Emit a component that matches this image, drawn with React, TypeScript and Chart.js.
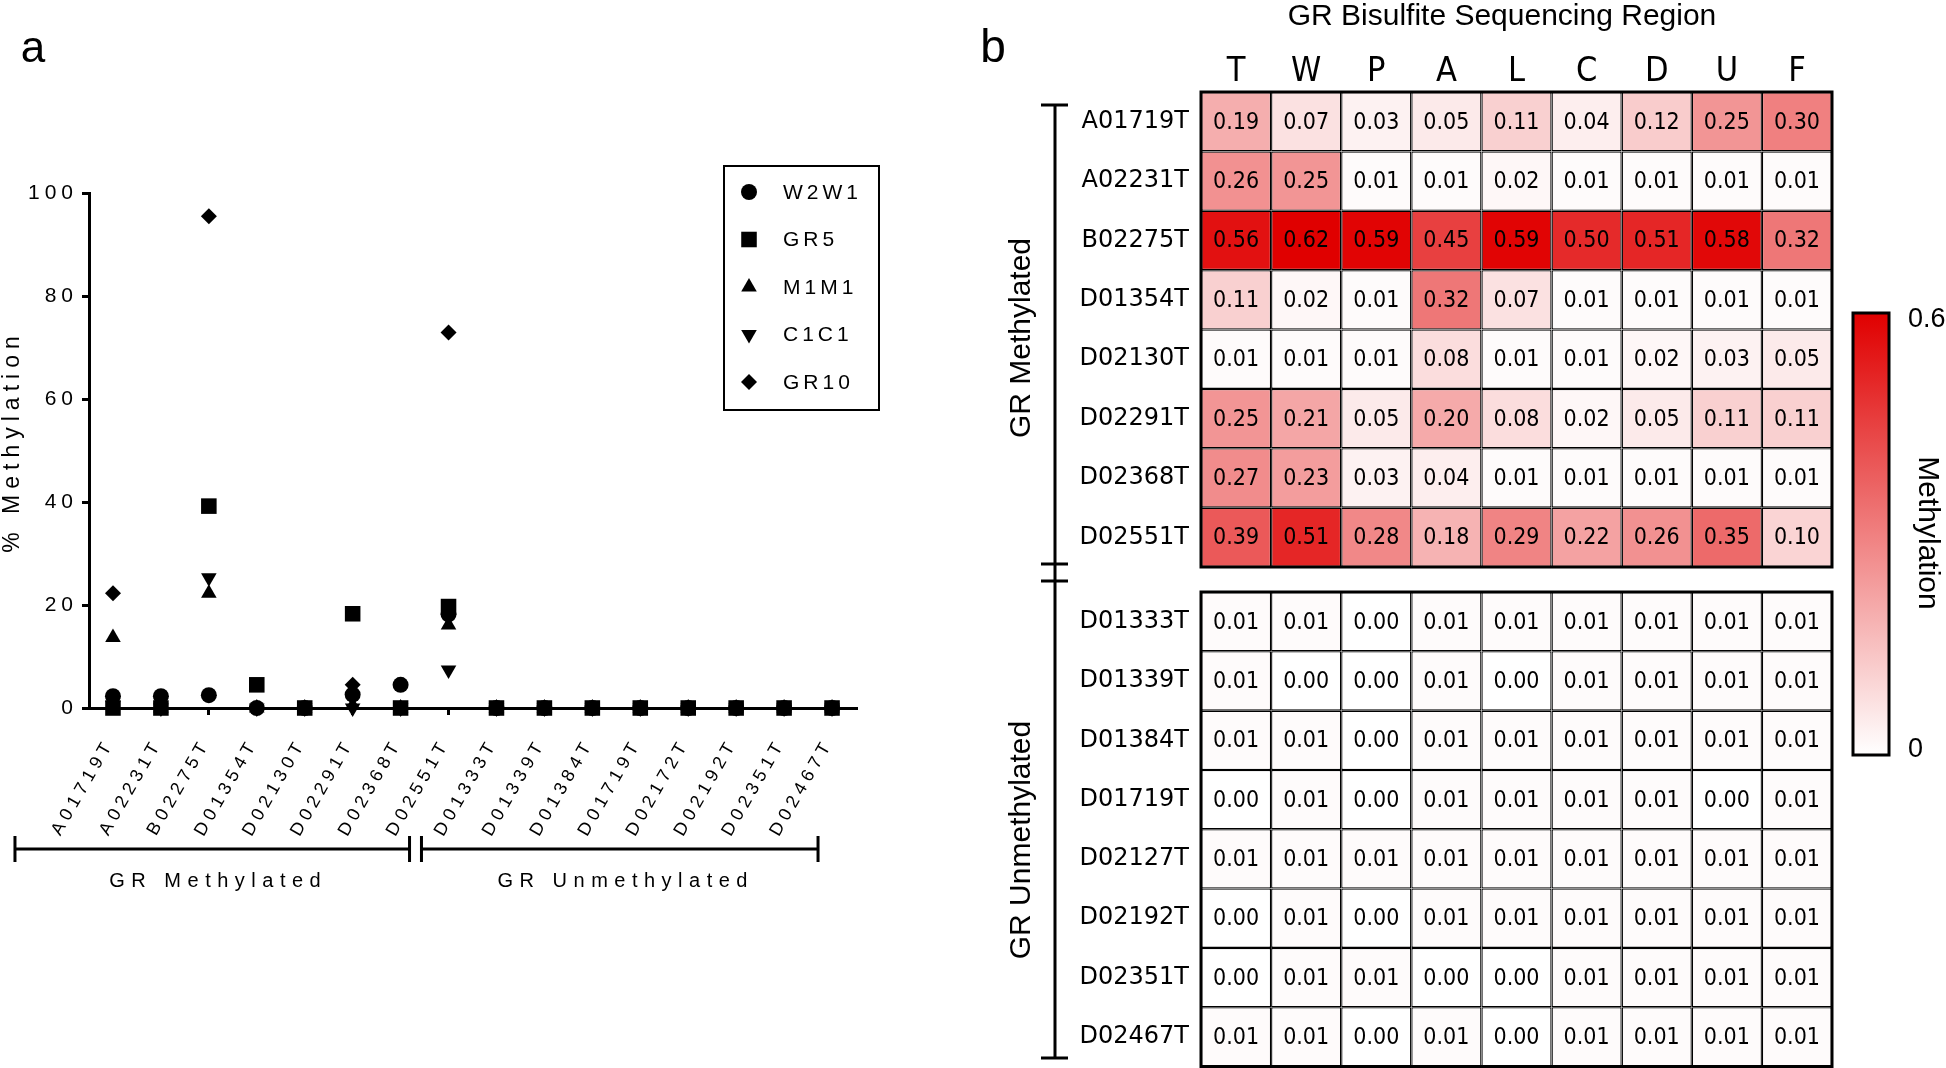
import React, { useEffect, useRef } from 'react';
import { Chart, registerables } from 'chart.js';
import { drawPoint } from 'chart.js/helpers';

Chart.register(...registerables);

// ---------------- Panel a data ----------------
const samples = [
  'A01719T', 'A02231T', 'B02275T', 'D01354T', 'D02130T', 'D02291T', 'D02368T', 'D02551T',
  'D01333T', 'D01339T', 'D01384T', 'D01719T', 'D02172T', 'D02192T', 'D02351T', 'D02467T',
];
const yTickValues = [0, 20, 40, 60, 80, 100];
const seriesNames = ['W2W1', 'GR5', 'M1M1', 'C1C1', 'GR10'];
const w2w1 = [2.3, 2.3, 2.5, 0, 0, 2.6, 4.5, 18.2, 0, 0, 0, 0, 0, 0, 0, 0];
const gr5 = [0, 0, 39.2, 4.5, 0, 18.3, 0, 19.7, 0, 0, 0, 0, 0, 0, 0, 0];
const m1m1 = [13.7, 0, 22.3, 0, 0, 0.5, 0, 16.1, 0, 0, 0, 0, 0, 0, 0, 0];
const c1c1 = [0.5, 0, 25.3, 0, 0, 0, 0, 7.4, 0, 0, 0, 0, 0, 0, 0, 0];
const gr10 = [22.3, 0, 95.5, 0, 0, 4.5, 0, 72.9, 0, 0, 0, 0, 0, 0, 0, 0];
const groupLabels = ['GR Methylated', 'GR Unmethylated'];
const yAxisTitle = '% Methylation';

// ---------------- Panel b data ----------------
const heatTitle = 'GR Bisulfite Sequencing Region';
const regions = ['T', 'W', 'P', 'A', 'L', 'C', 'D', 'U', 'F'];
const methylatedRows = ['A01719T', 'A02231T', 'B02275T', 'D01354T', 'D02130T', 'D02291T', 'D02368T', 'D02551T'];
const methylatedValues = [
  [0.19, 0.07, 0.03, 0.05, 0.11, 0.04, 0.12, 0.25, 0.30],
  [0.26, 0.25, 0.01, 0.01, 0.02, 0.01, 0.01, 0.01, 0.01],
  [0.56, 0.62, 0.59, 0.45, 0.59, 0.50, 0.51, 0.58, 0.32],
  [0.11, 0.02, 0.01, 0.32, 0.07, 0.01, 0.01, 0.01, 0.01],
  [0.01, 0.01, 0.01, 0.08, 0.01, 0.01, 0.02, 0.03, 0.05],
  [0.25, 0.21, 0.05, 0.20, 0.08, 0.02, 0.05, 0.11, 0.11],
  [0.27, 0.23, 0.03, 0.04, 0.01, 0.01, 0.01, 0.01, 0.01],
  [0.39, 0.51, 0.28, 0.18, 0.29, 0.22, 0.26, 0.35, 0.10],
];
const unmethylatedRows = ['D01333T', 'D01339T', 'D01384T', 'D01719T', 'D02127T', 'D02192T', 'D02351T', 'D02467T'];
const unmethylatedValues = [
  [0.01, 0.01, 0.00, 0.01, 0.01, 0.01, 0.01, 0.01, 0.01],
  [0.01, 0.00, 0.00, 0.01, 0.00, 0.01, 0.01, 0.01, 0.01],
  [0.01, 0.01, 0.00, 0.01, 0.01, 0.01, 0.01, 0.01, 0.01],
  [0.00, 0.01, 0.00, 0.01, 0.01, 0.01, 0.01, 0.00, 0.01],
  [0.01, 0.01, 0.01, 0.01, 0.01, 0.01, 0.01, 0.01, 0.01],
  [0.00, 0.01, 0.00, 0.01, 0.01, 0.01, 0.01, 0.01, 0.01],
  [0.00, 0.01, 0.01, 0.00, 0.00, 0.01, 0.01, 0.01, 0.01],
  [0.01, 0.01, 0.00, 0.01, 0.00, 0.01, 0.01, 0.01, 0.01],
];
const colorbarRange = [0, 0.6];
const colorbarTitle = 'Methylation';

// ---------------- styles ----------------
const FONT_A = '"Liberation Sans", Arial, sans-serif';
const FONT_N = '"Liberation Sans Narrow", "Arial Narrow", "DejaVu Sans Condensed", "Liberation Sans", sans-serif';
const FONT_L = '"DejaVu Sans", Verdana, sans-serif';
const pointStyles = ['circle', 'rect', 'triangle', 'triangle', 'rectRot'];
const pointRotations = [0, 0, 0, 180, 0];
const pointRadii = [8, 11, 9, 9, 8];
const HEAT_LEFT = 970;

function heatColor(v: number) {
  const t = Math.max(0, Math.min(1, (v - colorbarRange[0]) / (colorbarRange[1] - colorbarRange[0])));
  const r = Math.round(255 - 31 * t);
  const g = Math.round(255 * (1 - t));
  return `rgb(${r},${g},${g})`;
}

const panelAPlugin = {
  id: 'panelA',
  beforeDraw(chart: any) {
    chart.ctx.letterSpacing = '5px';
  },
  afterDraw(chart: any) {
    const ctx = chart.ctx;
    const xs = chart.scales.x;
    const a = chart.chartArea;
    ctx.save();
    ctx.fillStyle = '#000';
    ctx.strokeStyle = '#000';
    ctx.letterSpacing = '0px';
    ctx.font = `44px ${FONT_A}`;
    ctx.textAlign = 'center';
    ctx.textBaseline = 'alphabetic';
    ctx.fillText('a', 33, 62);

    // y-axis title
    ctx.save();
    ctx.translate(13, (a.top + a.bottom) / 2 - 6);
    ctx.rotate(-Math.PI / 2);
    ctx.font = `23px ${FONT_A}`;
    ctx.letterSpacing = '6px';
    ctx.textAlign = 'center';
    ctx.textBaseline = 'middle';
    ctx.fillText(yAxisTitle, 3, 0);
    ctx.restore();

    // legend
    ctx.lineWidth = 2;
    ctx.strokeRect(724, 166, 155, 244);
    ctx.font = `21px ${FONT_A}`;
    ctx.letterSpacing = '4px';
    ctx.textAlign = 'left';
    ctx.textBaseline = 'middle';
    chart.data.datasets.forEach((ds: any, i: number) => {
      const y = 192 + i * 47.5;
      ctx.fillStyle = '#000';
      drawPoint(ctx, { pointStyle: ds.pointStyle, rotation: ds.rotation, radius: ds.pointRadius, borderWidth: 0 } as any, 749, y);
      ctx.fillText(ds.label, 783, y + 1);
    });

    // group brackets
    const n1 = methylatedRows.length;
    const spans = [
      [xs.getPixelForValue(0) - 98, xs.getPixelForValue(n1 - 1) - 39],
      [xs.getPixelForValue(n1) - 75, xs.getPixelForValue(samples.length - 1) - 14],
    ];
    const by = 849;
    ctx.lineWidth = 3;
    ctx.font = `20px ${FONT_A}`;
    ctx.letterSpacing = '6.5px';
    ctx.textAlign = 'center';
    ctx.textBaseline = 'middle';
    spans.forEach(([s, e], i) => {
      ctx.beginPath();
      ctx.moveTo(s, by); ctx.lineTo(e, by);
      ctx.moveTo(s, by - 13); ctx.lineTo(s, by + 13);
      ctx.moveTo(e, by - 13); ctx.lineTo(e, by + 13);
      ctx.stroke();
      ctx.fillText(groupLabels[i], (s + e) / 2 + 6, 881);
    });
    ctx.restore();
  },
};

function makePanelA(canvas: HTMLCanvasElement) {
  const series = [w2w1, gr5, m1m1, c1c1, gr10];
  return new Chart(canvas, {
    type: 'line',
    data: {
      labels: samples,
      datasets: series.map((d, i) => ({
        label: seriesNames[i],
        data: d,
        showLine: false,
        pointStyle: pointStyles[i],
        rotation: pointRotations[i],
        pointRadius: pointRadii[i],
        pointBackgroundColor: '#000',
        pointBorderColor: '#000',
        pointBorderWidth: 0,
        clip: false,
      })) as any,
    },
    options: {
      responsive: false,
      animation: false,
      events: [],
      layout: { padding: { left: 0, top: 193, right: 44, bottom: 0 } },
      plugins: { legend: { display: false }, tooltip: { enabled: false } },
      scales: {
        x: {
          type: 'category',
          offset: true,
          grid: { display: true, drawOnChartArea: false, drawTicks: true, tickLength: 7, lineWidth: 3, color: '#000' },
          border: { display: true, width: 3, color: '#000' },
          ticks: { autoSkip: false, minRotation: 60, maxRotation: 60, padding: 20, labelOffset: -3, color: '#000', font: { family: FONT_A, size: 18 } },
          afterFit: (s: any) => { s.height = 360; },
        },
        y: {
          min: 0,
          max: 100,
          afterBuildTicks: (s: any) => { s.ticks = yTickValues.map((v) => ({ value: v })); },
          ticks: { padding: 4, color: '#000', font: { family: FONT_A, size: 21 } },
          grid: { display: true, drawOnChartArea: false, drawTicks: true, tickLength: 7, lineWidth: 3, color: '#000' },
          border: { display: true, width: 3, color: '#000' },
          afterFit: (s: any) => { s.width = 89; },
        },
      },
    } as any,
    plugins: [panelAPlugin],
  });
}

const cellTextPlugin = {
  id: 'cellText',
  afterDatasetsDraw(chart: any) {
    const ctx = chart.ctx;
    const vals = chart.options.plugins.cellText.values;
    ctx.save();
    ctx.fillStyle = '#000';
    ctx.font = `23px ${FONT_N}`;
    ctx.textAlign = 'center';
    ctx.textBaseline = 'middle';
    chart.data.datasets.forEach((_: any, j: number) => {
      const meta = chart.getDatasetMeta(j);
      meta.data.forEach((el: any, r: number) => {
        const p = el.getProps(['x', 'y', 'base'], true);
        ctx.fillText(vals[r][j].toFixed(2), (p.x + p.base) / 2, p.y + 1);
      });
    });
    const a = chart.chartArea;
    ctx.strokeStyle = '#000';
    ctx.lineWidth = 3;
    ctx.strokeRect(a.left, a.top, a.right - a.left, a.bottom - a.top);
    ctx.restore();
  },
};

const heatDecorPlugin = {
  id: 'heatDecor',
  afterDraw(chart: any) {
    if (!chart.options.plugins.heatDecor.enabled) return;
    const ctx = chart.ctx;
    const o = HEAT_LEFT;
    ctx.save();
    ctx.fillStyle = '#000';
    ctx.strokeStyle = '#000';
    // panel letter
    ctx.font = `46px ${FONT_A}`;
    ctx.textAlign = 'center';
    ctx.textBaseline = 'alphabetic';
    ctx.fillText('b', 993 - o, 62);
    // title
    ctx.font = `30px ${FONT_A}`;
    ctx.fillText(heatTitle, 1502 - o, 25);
    // brackets
    ctx.lineWidth = 3;
    const lx = 1055 - o;
    ctx.beginPath();
    ctx.moveTo(lx, 105); ctx.lineTo(lx, 1058);
    [105, 564, 581, 1058].forEach((y) => { ctx.moveTo(lx - 14, y); ctx.lineTo(lx + 13, y); });
    ctx.stroke();
    ctx.font = `30px ${FONT_A}`;
    ctx.textBaseline = 'middle';
    [[groupLabels[0], 338], [groupLabels[1], 840]].forEach(([t, y]) => {
      ctx.save();
      ctx.translate(1022 - o, y as number);
      ctx.rotate(-Math.PI / 2);
      ctx.fillText(t as string, 0, 0);
      ctx.restore();
    });
    // colorbar
    const cx0 = 1853 - o, cx1 = 1889 - o, cy0 = 313, cy1 = 755;
    const grad = ctx.createLinearGradient(0, cy1, 0, cy0);
    for (let k = 0; k <= 10; k++) {
      const v = colorbarRange[0] + (colorbarRange[1] - colorbarRange[0]) * (k / 10);
      grad.addColorStop(k / 10, heatColor(v));
    }
    ctx.fillStyle = grad;
    ctx.fillRect(cx0, cy0, cx1 - cx0, cy1 - cy0);
    ctx.lineWidth = 3;
    ctx.strokeRect(cx0, cy0, cx1 - cx0, cy1 - cy0);
    ctx.fillStyle = '#000';
    ctx.font = `27px ${FONT_A}`;
    ctx.textAlign = 'left';
    ctx.textBaseline = 'middle';
    ctx.fillText(String(colorbarRange[1]), 1908 - o, 320);
    ctx.fillText(String(colorbarRange[0]), 1908 - o, 750);
    ctx.save();
    ctx.translate(1927 - o, 533);
    ctx.rotate(Math.PI / 2);
    ctx.font = `30px ${FONT_A}`;
    ctx.textAlign = 'center';
    ctx.fillText(colorbarTitle, 0, 0);
    ctx.restore();
    ctx.restore();
  },
};

function makeHeat(canvas: HTMLCanvasElement, rows: string[], vals: number[][], isTop: boolean) {
  return new Chart(canvas, {
    type: 'bar',
    data: {
      labels: rows,
      datasets: regions.map((r, j) => ({
        label: r,
        data: rows.map(() => 1),
        backgroundColor: vals.map((row) => heatColor(row[j])),
        borderColor: '#000',
        borderWidth: 1.3,
        borderSkipped: false,
        barPercentage: 1,
        categoryPercentage: 1,
        inflateAmount: 0,
      })) as any,
    },
    options: {
      indexAxis: 'y',
      responsive: false,
      animation: false,
      events: [],
      layout: {
        padding: isTop
          ? { top: 0, bottom: 501, left: 0, right: 114 }
          : { top: 592, bottom: 1.5, left: 0, right: 114 },
      },
      plugins: {
        legend: { display: false },
        tooltip: { enabled: false },
        cellText: { values: vals },
        heatDecor: { enabled: isTop },
      },
      scales: {
        x: {
          type: 'linear',
          position: 'top',
          stacked: true,
          min: 0,
          max: regions.length,
          display: isTop,
          grid: { display: false, drawTicks: false },
          border: { display: false },
          afterBuildTicks: (s: any) => { s.ticks = regions.map((_, j) => ({ value: j + 0.5 })); },
          ticks: {
            autoSkip: false,
            maxRotation: 0,
            padding: -1,
            color: '#000',
            font: { family: FONT_N, size: 34 },
            callback: (v: any) => regions[Math.floor(Number(v))],
          },
          ...(isTop ? { afterFit: (s: any) => { s.height = 92; s.paddingLeft = 0; s.paddingRight = 0; } } : {}),
        },
        y: {
          type: 'category',
          stacked: true,
          grid: { display: false, drawTicks: false },
          border: { display: false },
          ticks: { color: '#000', font: { family: FONT_L, size: 24 }, padding: 12, autoSkip: false },
          afterFit: (s: any) => { s.width = 1201 - HEAT_LEFT; s.paddingTop = 0; s.paddingBottom = 0; },
        },
      },
    } as any,
    plugins: [cellTextPlugin, heatDecorPlugin],
  });
}

export default function App() {
  const aRef = useRef<HTMLCanvasElement>(null);
  const topRef = useRef<HTMLCanvasElement>(null);
  const botRef = useRef<HTMLCanvasElement>(null);

  useEffect(() => {
    const charts: Chart[] = [];
    if (aRef.current) charts.push(makePanelA(aRef.current));
    if (topRef.current) charts.push(makeHeat(topRef.current, methylatedRows, methylatedValues, true));
    if (botRef.current) charts.push(makeHeat(botRef.current, unmethylatedRows, unmethylatedValues, false));
    return () => charts.forEach((c) => c.destroy());
  }, []);

  const abs: React.CSSProperties = { position: 'absolute', top: 0 };
  return (
    <div style={{ position: 'absolute', left: 0, top: 0, width: 1946, height: 1068, background: '#fff', overflow: 'hidden' }}>
      <canvas ref={aRef} width={900} height={1068} style={{ ...abs, left: 0 }} />
      <canvas ref={topRef} width={1946 - HEAT_LEFT} height={1068} style={{ ...abs, left: HEAT_LEFT }} />
      <canvas ref={botRef} width={1946 - HEAT_LEFT} height={1068} style={{ ...abs, left: HEAT_LEFT }} />
    </div>
  );
}
